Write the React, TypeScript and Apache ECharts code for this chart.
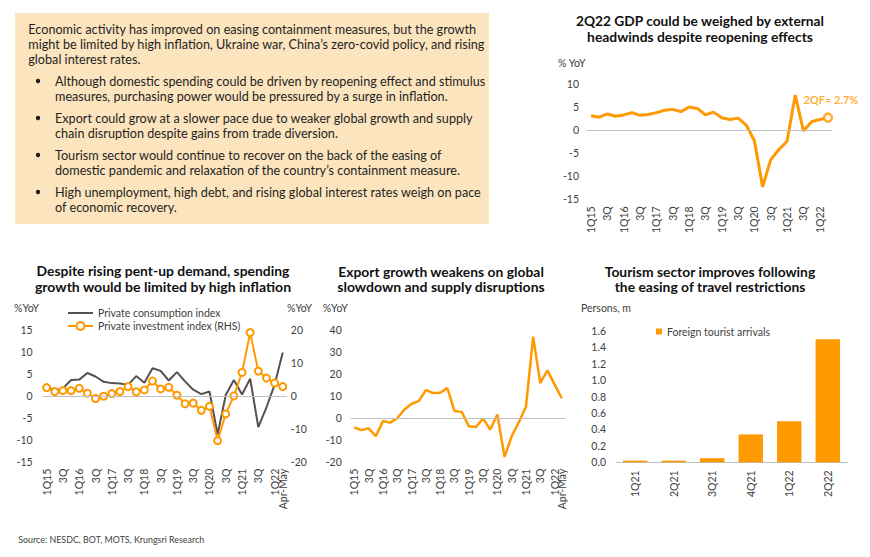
import React, { useEffect, useRef } from "react";
import * as echarts from "echarts";

// ---------------- DATA ----------------
const gdpQuarters = [
  "1Q15", "2Q15", "3Q15", "4Q15", "1Q16", "2Q16", "3Q16", "4Q16",
  "1Q17", "2Q17", "3Q17", "4Q17", "1Q18", "2Q18", "3Q18", "4Q18",
  "1Q19", "2Q19", "3Q19", "4Q19", "1Q20", "2Q20", "3Q20", "4Q20",
  "1Q21", "2Q21", "3Q21", "4Q21", "1Q22", "2Q22",
];
const gdpGrowth = [
  3.1, 2.8, 3.5, 3.0, 3.3, 3.8, 3.2, 3.4,
  3.8, 4.3, 4.5, 4.0, 5.0, 4.7, 3.3, 3.9,
  2.7, 2.3, 2.6, 1.1, -2.3, -12.3, -6.4, -4.2,
  -2.4, 7.6, -0.2, 1.8, 2.3, 2.7,
];
const gdpForecastLabel = "2QF";

const spendQuarters = [
  "1Q15", "2Q15", "3Q15", "4Q15", "1Q16", "2Q16", "3Q16", "4Q16",
  "1Q17", "2Q17", "3Q17", "4Q17", "1Q18", "2Q18", "3Q18", "4Q18",
  "1Q19", "2Q19", "3Q19", "4Q19", "1Q20", "2Q20", "3Q20", "4Q20",
  "1Q21", "2Q21", "3Q21", "4Q21", "1Q22", "Apr-May",
];
const consumptionIndex = [
  2.0, 1.2, 1.7, 3.6, 3.7, 5.2, 4.4, 3.2,
  2.9, 2.8, 2.5, 4.5, 3.0, 6.3, 5.7, 3.5,
  5.4, 3.3, 1.4, 0.4, 1.0, -8.8, 0.2, 3.6,
  0.3, 3.9, -7.1, -2.6, 2.5, 9.9,
];
const investmentIndex = [
  2.5, 1.3, 1.6, 1.6, 2.3, 0.8, -0.8, -0.1,
  0.7, 1.3, 2.8, 1.2, 1.8, 4.5, 2.1, 2.6,
  0.2, -2.4, -2.2, -4.4, -3.2, -13.6, -5.5, 0.0,
  7.1, 19.2, 7.5, 5.4, 3.9, 2.8,
];
const exportGrowth = [
  -4.4, -5.6, -4.8, -8.4, -1.5, -2.2, -0.2, 3.8,
  6.4, 7.6, 12.6, 11.3, 11.4, 13.5, 3.1, 2.7,
  -3.8, -4.2, -0.4, -5.4, 1.5, -17.8, -8.4, -2.0,
  5.0, 37.0, 15.8, 21.6, 15.2, 8.9,
];

const tourismQuarters = ["1Q21", "2Q21", "3Q21", "4Q21", "1Q22", "2Q22"];
const touristArrivals = [0.02, 0.02, 0.05, 0.34, 0.5, 1.5];

// axis ranges
const gdpAxis = { min: -15, max: 10, interval: 5 };
const consAxis = { min: -15, max: 15, interval: 5 };
const invAxis = { min: -20, max: 20, interval: 10 };
const expAxis = { min: -20, max: 40, interval: 10 };
const tourAxis = { min: 0, max: 1.6, interval: 0.2 };

// texts
const introLines = [
  "Economic activity has improved on easing containment measures, but the growth",
  "might be limited by high inflation, Ukraine war, China\u2019s zero-covid policy, and rising",
  "global interest rates.",
];
const bulletParas = [
  [
    "Although domestic spending could be driven by reopening effect and stimulus",
    "measures, purchasing power would be pressured by a surge in inflation.",
  ],
  [
    "Export could grow at a slower pace due to weaker global growth and supply",
    "chain disruption despite gains from trade diversion.",
  ],
  [
    "Tourism sector would continue to recover on the back of the easing of",
    "domestic pandemic and relaxation of the country\u2019s containment measure.",
  ],
  [
    "High unemployment, high debt, and rising global interest rates weigh on pace",
    "of economic recovery.",
  ],
];
const sourceText = "Source: NESDC, BOT, MOTS, Krungsri Research";

// ---------------- STYLE ----------------
const ORANGE = "#FF9900";
const GREY_LINE = "#594F4F";
const ZERO = "#BFBFBF";
const LABEL = "#404040";
const FONT = "Lato";
const TICK = 10.5;

const shortQ = (v: string) => (/^[234]Q\d\d$/.test(v) ? v.slice(0, 2) : v);

function buildOption() {
  const canvas = document.createElement("canvas");
  const ctx = canvas.getContext("2d")!;
  const tw = (t: string, size: number, weight = "normal") => {
    ctx.font = `${weight} ${size}px ${FONT}`;
    return ctx.measureText(t).width || 1;
  };

  const g: any[] = [];
  // text box
  g.push({
    type: "rect",
    shape: { x: 15, y: 13, width: 474, height: 211 },
    style: { fill: "#FCE4BE" },
    z: 0,
  });
  const bodySize = 12.8;
  const bodyScale = 448 / tw(introLines[0], bodySize);
  const bodyText = (t: string, x: number, y: number) => ({
    type: "text",
    x,
    y,
    scaleX: bodyScale,
    style: {
      text: t,
      fontSize: bodySize,
      fontFamily: FONT,
      fill: "#1F1F1F",
      textAlign: "left",
      align: "left",
      textVerticalAlign: "middle",
      verticalAlign: "middle",
    },
    z: 1,
  });
  const introY = [29.3, 44.3, 59.3];
  introLines.forEach((t, i) => g.push(bodyText(t, 28.3, introY[i])));
  const bulletY = [81, 118, 155, 192];
  bulletParas.forEach((lines, b) => {
    g.push({
      type: "circle",
      shape: { cx: 38, cy: bulletY[b], r: 2.2 },
      style: { fill: "#1F1F1F" },
      z: 1,
    });
    lines.forEach((t, i) => g.push(bodyText(t, 55, bulletY[b] + i * 15)));
  });

  // chart titles
  const titles = [
    { lines: ["2Q22 GDP could be weighed by external", "headwinds despite reopening effects"], cx: 700, y: [21.5, 36.7], w: [249, 226] },
    { lines: ["Despite rising pent-up demand, spending", "growth would be limited by high inflation"], cx: 163, y: [271, 286.3], w: [253, 257] },
    { lines: ["Export growth weakens on global", "slowdown and supply disruptions"], cx: 441, y: [271.5, 286.5], w: [206, 208] },
    { lines: ["Tourism sector improves following", "the easing of travel restrictions"], cx: 710, y: [271.5, 286.7], w: [211, 191] },
  ];
  const titleSize = 13.5;
  titles.forEach((tt) => {
    tt.lines.forEach((t, i) => {
      g.push({
        type: "text",
        x: tt.cx,
        y: tt.y[i],
        scaleX: tt.w[i] / tw(t, titleSize, "bold"),
        style: {
          text: t,
          fontSize: titleSize,
          fontWeight: "bold",
          fontFamily: FONT,
          fill: "#111111",
          textAlign: "center",
          align: "center",
          textVerticalAlign: "middle",
          verticalAlign: "middle",
        },
      });
    });
  });

  // unit labels
  const units = [
    { t: "% YoY", x: 558, y: 62.7 },
    { t: "%YoY", x: 14, y: 308 },
    { t: "%YoY", x: 287, y: 308 },
    { t: "%YoY", x: 322.7, y: 308 },
    { t: "Persons, m", x: 581, y: 308 },
  ];
  units.forEach((u) =>
    g.push({
      type: "text",
      x: u.x,
      y: u.y,
      style: {
        text: u.t,
        fontSize: 10.5,
        fontFamily: FONT,
        fill: LABEL,
        textAlign: "left",
        align: "left",
        textVerticalAlign: "middle",
        verticalAlign: "middle",
      },
    })
  );

  // source
  g.push({
    type: "text",
    x: 18.3,
    y: 539.3,
    scaleX: 186 / tw(sourceText, 9.5),
    style: {
      text: sourceText,
      fontSize: 9.5,
      fontFamily: FONT,
      fill: LABEL,
      textAlign: "left",
      align: "left",
      textVerticalAlign: "middle",
      verticalAlign: "middle",
    },
  });

  const catAxis = (gridIndex: number, data: string[], show: (i: number) => boolean, extra: any = {}) => ({
    type: "category",
    gridIndex,
    data,
    boundaryGap: true,
    axisLine: { show: false },
    axisTick: { show: false },
    splitLine: { show: false },
    axisLabel: {
      rotate: 90,
      interval: 0,
      margin: 7,
      fontSize: TICK,
      color: LABEL,
      fontFamily: FONT,
      hideOverlap: false,
      formatter: (v: string, i: number) => (show(i) ? shortQ(v) : ""),
    },
    ...extra,
  });
  const valAxis = (gridIndex: number, r: any, margin: number, extra: any = {}) => ({
    type: "value",
    gridIndex,
    min: r.min,
    max: r.max,
    interval: r.interval,
    axisLine: { show: false },
    axisTick: { show: false },
    splitLine: { show: false },
    axisLabel: { margin, fontSize: TICK, color: LABEL, fontFamily: FONT },
    ...extra,
  });

  const zeroLine = {
    silent: true,
    symbol: ["none", "none"],
    label: { show: false },
    lineStyle: { color: ZERO, width: 1, type: "solid" },
    emphasis: { disabled: true },
    data: [{ yAxis: 0 }],
  };

  const gdpShow = (i: number) => i % 2 === 0 && i < gdpQuarters.length - 1;
  const spendShow = (i: number) => i % 2 === 0 || i === spendQuarters.length - 1;
  const lastIdx = gdpQuarters.length - 1;

  return {
    animation: false,
    backgroundColor: "#ffffff",
    textStyle: { fontFamily: FONT },
    graphic: { elements: g },
    legend: [
      {
        left: 67,
        top: 307.5,
        orient: "vertical",
        padding: 0,
        itemWidth: 25,
        itemHeight: 10,
        itemGap: 2,
        textStyle: { fontSize: 10.5, color: LABEL, fontFamily: FONT },
        data: [
          {
            name: "Private consumption index",
            itemStyle: { color: "transparent", borderColor: "transparent", opacity: 0 },
          },
          { name: "Private investment index (RHS)" },
        ],
      },
      {
        left: 656,
        top: 326,
        padding: 0,
        itemWidth: 6,
        itemHeight: 6,
        icon: "rect",
        textStyle: { fontSize: 10.5, color: LABEL, fontFamily: FONT },
        data: ["Foreign tourist arrivals"],
      },
    ],
    grid: [
      { left: 587, top: 84, width: 245, height: 115.3 },
      { left: 42.6, top: 330, width: 244.2, height: 131.7 },
      { left: 350.8, top: 330, width: 214.5, height: 131.7 },
      { left: 616, top: 331, width: 231, height: 131.3 },
    ],
    xAxis: [
      catAxis(0, gdpQuarters, gdpShow),
      catAxis(1, spendQuarters, spendShow),
      catAxis(2, spendQuarters, spendShow),
      catAxis(3, tourismQuarters, () => true, {
        axisLine: { show: true, lineStyle: { color: ZERO, width: 1 } },
        axisLabel: {
          rotate: 90,
          interval: 0,
          margin: 8,
          fontSize: TICK,
          color: LABEL,
          fontFamily: FONT,
        },
      }),
    ],
    yAxis: [
      valAxis(0, gdpAxis, 8),
      valAxis(1, consAxis, 10),
      valAxis(1, invAxis, 4, { position: "right" }),
      valAxis(2, expAxis, 9),
      valAxis(3, tourAxis, 10, {
        axisLabel: {
          margin: 10,
          fontSize: TICK,
          color: LABEL,
          fontFamily: FONT,
          formatter: (v: number) => v.toFixed(1),
        },
      }),
    ],
    series: [
      {
        type: "line",
        name: "Real GDP",
        xAxisIndex: 0,
        yAxisIndex: 0,
        data: gdpGrowth,
        symbol: "none",
        lineStyle: { color: ORANGE, width: 3 },
        itemStyle: { color: ORANGE },
        markLine: zeroLine,
        z: 3,
      },
      {
        type: "scatter",
        name: "Forecast",
        xAxisIndex: 0,
        yAxisIndex: 0,
        data: [[gdpQuarters[lastIdx], gdpGrowth[lastIdx]]],
        symbol: "circle",
        symbolSize: 8,
        itemStyle: { color: "#ffffff", borderColor: ORANGE, borderWidth: 2.5 },
        label: {
          show: true,
          position: "top",
          distance: 7,
          offset: [3, 0],
          formatter: (p: any) => `${gdpForecastLabel}= ${p.value[1].toFixed(1)}%`,
          color: ORANGE,
          fontSize: 11,
          fontWeight: "bold",
          fontFamily: FONT,
        },
        z: 5,
      },
      {
        type: "line",
        name: "Private consumption index",
        xAxisIndex: 1,
        yAxisIndex: 1,
        data: consumptionIndex,
        symbol: "none",
        lineStyle: { color: GREY_LINE, width: 2 },
        itemStyle: { color: GREY_LINE },
        markLine: zeroLine,
        z: 3,
      },
      {
        type: "line",
        name: "Private investment index (RHS)",
        xAxisIndex: 1,
        yAxisIndex: 2,
        data: investmentIndex,
        symbol: "emptyCircle",
        symbolSize: 7,
        showSymbol: true,
        showAllSymbol: true,
        lineStyle: { color: ORANGE, width: 2 },
        itemStyle: { color: ORANGE, borderColor: ORANGE, borderWidth: 2 },
        z: 4,
      },
      {
        type: "line",
        name: "Exports",
        xAxisIndex: 2,
        yAxisIndex: 3,
        data: exportGrowth,
        symbol: "none",
        lineStyle: { color: ORANGE, width: 2.5 },
        itemStyle: { color: ORANGE },
        markLine: zeroLine,
        z: 3,
      },
      {
        type: "bar",
        name: "Foreign tourist arrivals",
        xAxisIndex: 3,
        yAxisIndex: 4,
        data: touristArrivals,
        barWidth: 24.4,
        itemStyle: { color: ORANGE },
      },
    ],
  };
}

export default function App() {
  const ref = useRef<HTMLDivElement>(null);
  useEffect(() => {
    document.body.style.margin = "0";
    const chart = echarts.init(ref.current!, null, { renderer: "svg" });
    chart.setOption(buildOption() as any);
    return () => chart.dispose();
  }, []);
  return <div ref={ref} style={{ width: 870, height: 557 }} />;
}
